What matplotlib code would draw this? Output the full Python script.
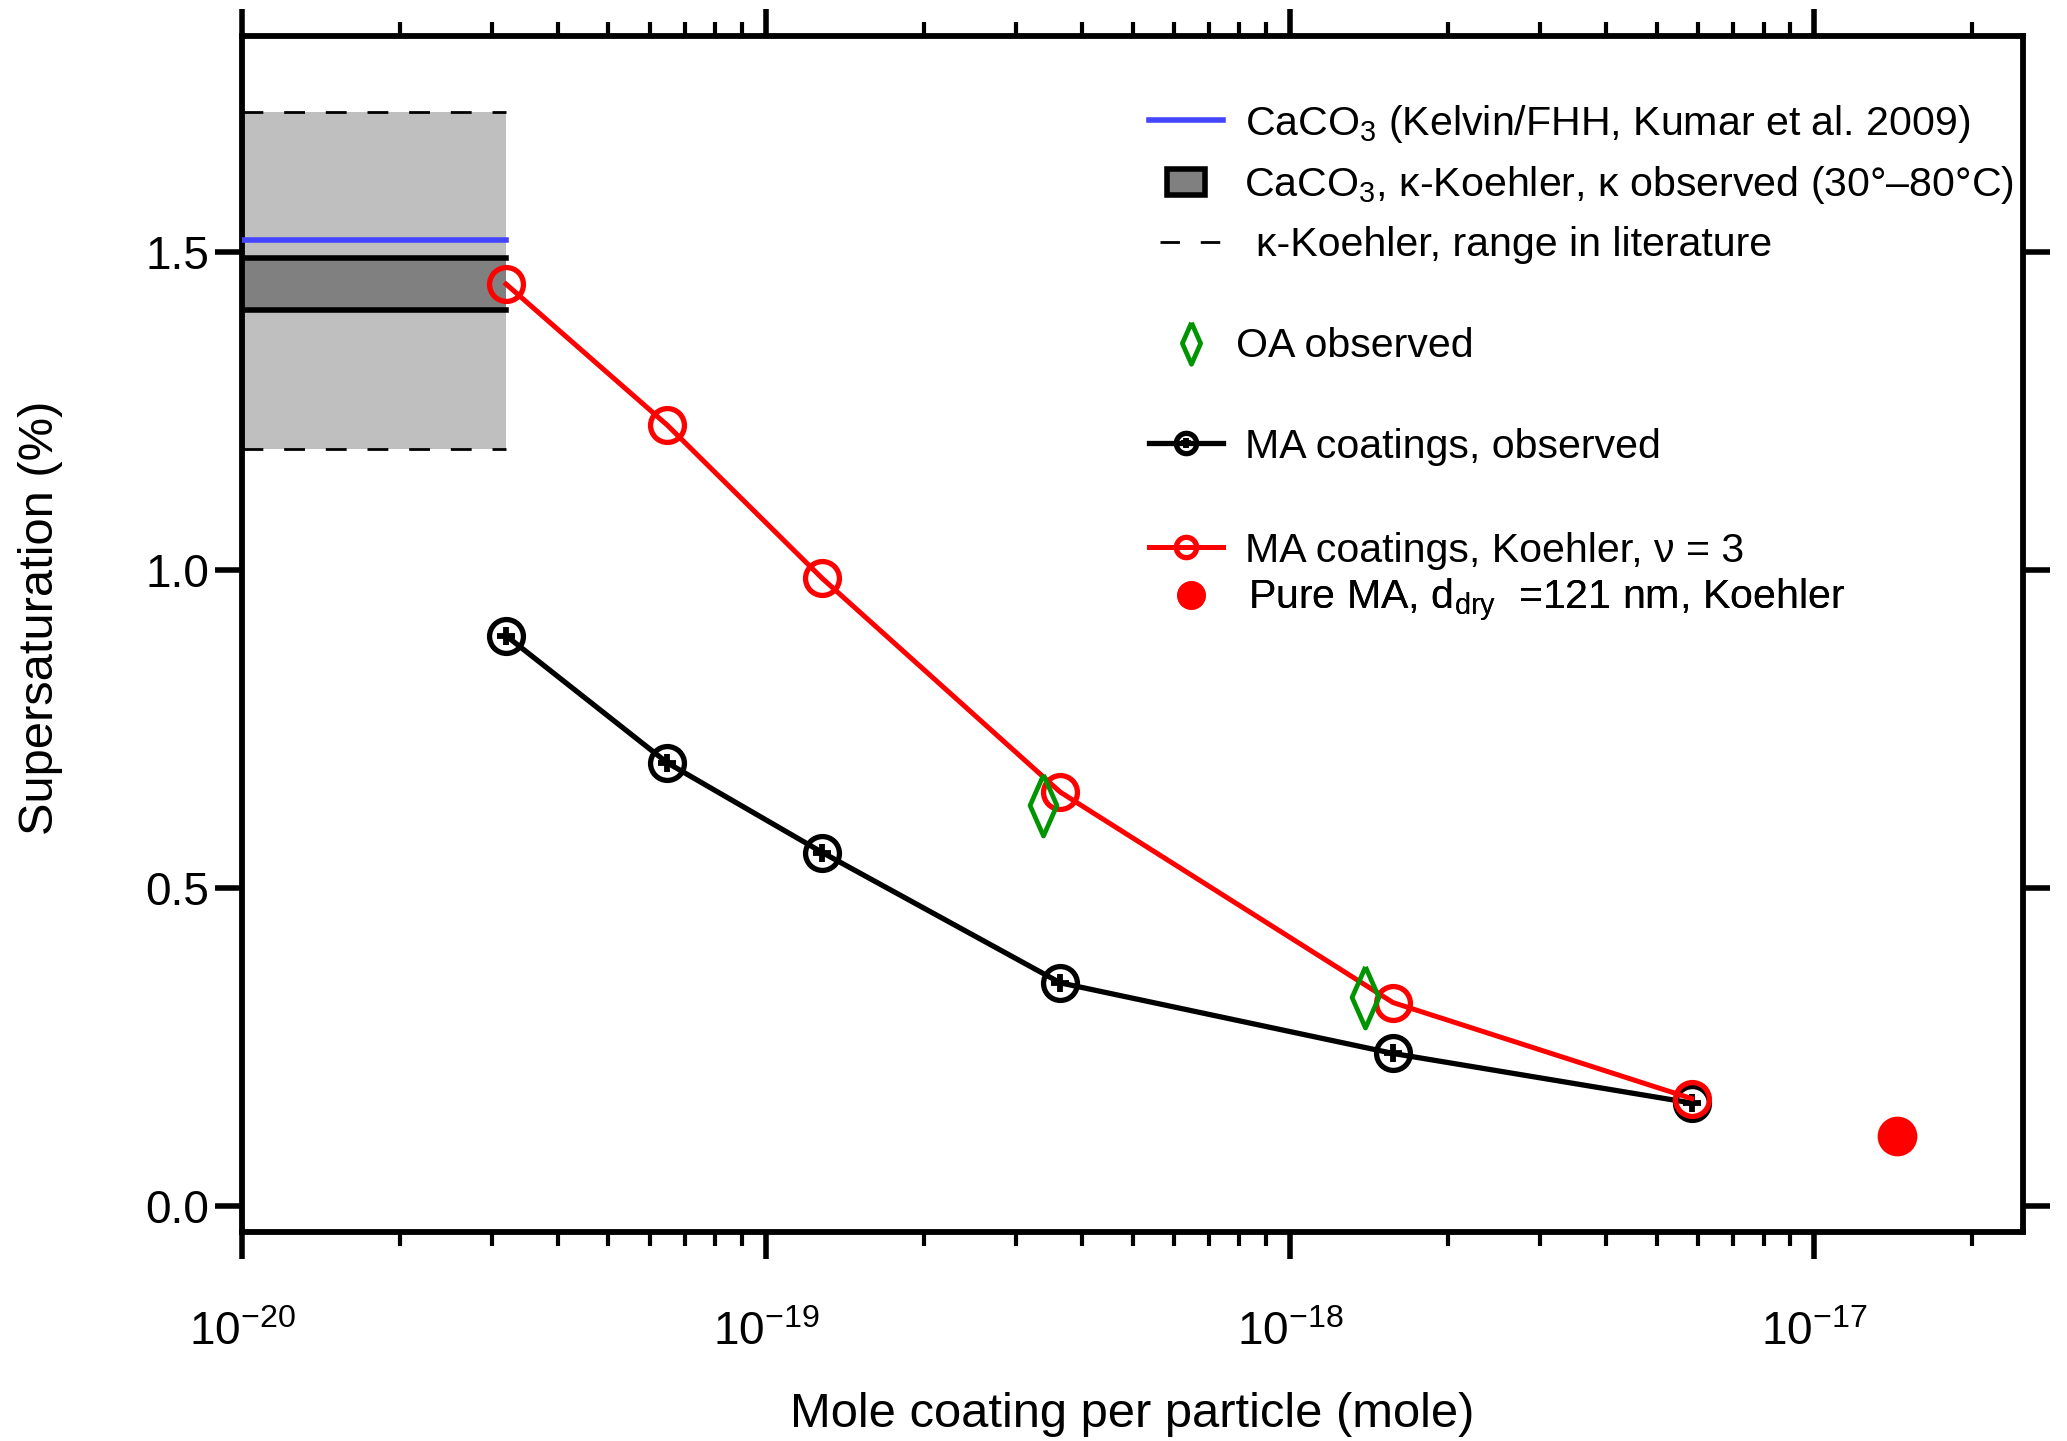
import numpy as np
import matplotlib
matplotlib.use('Agg')
import matplotlib.pyplot as plt
from matplotlib.lines import Line2D
from matplotlib.patches import Patch
from matplotlib.ticker import FixedLocator, NullFormatter, LogFormatterSciNotation

plt.rcParams['font.family'] = ['Liberation Sans', 'DejaVu Sans']
plt.rcParams['mathtext.fontset'] = 'custom'
plt.rcParams['mathtext.rm'] = 'Liberation Sans'
plt.rcParams['mathtext.it'] = 'Liberation Sans:italic'
plt.rcParams['mathtext.default'] = 'regular'

# ── Data ──────────────────────────────────────────────
mole_coating = [3.19e-20, 6.48e-20, 1.28e-19, 3.64e-19, 1.57e-18, 5.83e-18]
ss_observed  = [0.897, 0.697, 0.556, 0.351, 0.240, 0.162]
ss_koehler   = [1.450, 1.228, 0.987, 0.651, 0.320, 0.169]

oa_mole = [3.38e-19, 1.39e-18]
oa_ss   = [0.630, 0.329]

pure_ma_mole = [1.44e-17]
pure_ma_ss   = [0.110]

band_x        = [1e-20, 3.19e-20]
lit_range     = (1.191, 1.720)   # kappa-Koehler, range in literature
kappa_obs     = (1.410, 1.491)   # kappa observed (30-80 C)
kelvin_fhh    = 1.520

x_major = [1e-20, 1e-19, 1e-18, 1e-17]
y_ticks = [0.0, 0.5, 1.0, 1.5]
y_ticklabels = ['0.0', '0.5', '1.0', '1.5']

# ── Plot ──────────────────────────────────────────────
fig = plt.figure(figsize=(10.335, 7.205), dpi=200)
ax = fig.add_axes([0.11708, 0.14525, 0.86164, 0.82998])

ax.fill_between(band_x, lit_range[0], lit_range[1], color='#bfbfbf', lw=0, zorder=1)
for yv in lit_range:
    ax.plot(band_x, [yv, yv], color='black', lw=1.0, dashes=(7.5, 7.5), zorder=2)
ax.fill_between(band_x, kappa_obs[0], kappa_obs[1], color='#808080', lw=0, zorder=2)
for yv in kappa_obs:
    ax.plot(band_x, [yv, yv], color='black', lw=2.0, zorder=3)
ax.plot(band_x, [kelvin_fhh, kelvin_fhh], color='#4444ff', lw=2.0, zorder=3)

obs_line, = ax.plot(mole_coating, ss_observed, color='black', lw=1.9,
                    marker='o', ms=12.2, mfc='none', mec='black', mew=1.9, zorder=4)
obs_plus, = ax.plot(mole_coating, ss_observed, ls='none', marker='+',
                    ms=6.5, mec='black', mew=2.1, zorder=4)
koe_line, = ax.plot(mole_coating, ss_koehler, color='red', lw=1.8,
                    marker='o', ms=12.2, mfc='none', mec='red', mew=1.9, zorder=5)

diamond = [(0, 1), (0.44, 0), (0, -1), (-0.44, 0), (0, 1)]
oa_pts, = ax.plot(oa_mole, oa_ss, ls='none', marker=diamond, ms=22,
                  mfc='none', mec='#009400', mew=1.7, zorder=5)
pure_pt, = ax.plot(pure_ma_mole, pure_ma_ss, ls='none', marker='o', ms=13.3,
                   mfc='red', mec='red', zorder=5)

# Axes
ax.set_xscale('log')
ax.set_xlim(1e-20, 2.5e-17)
ax.set_ylim(-0.0404, 1.8407)
ax.set_yticks(y_ticks)
ax.set_yticklabels(y_ticklabels)
ax.xaxis.set_major_locator(FixedLocator(x_major))
ax.xaxis.set_major_formatter(LogFormatterSciNotation())
x_minor = [m * d for d in x_major for m in range(2, 10) if m * d < 2.5e-17]
ax.xaxis.set_minor_locator(FixedLocator(x_minor))
ax.xaxis.set_minor_formatter(NullFormatter())

for sp in ax.spines.values():
    sp.set_linewidth(2.1)
ax.tick_params(which='both', direction='out', top=True, right=True)
ax.tick_params(which='major', length=9.7, width=2.0, labelsize=16.5)
ax.tick_params(which='minor', length=5.0, width=1.5)
ax.tick_params(axis='x', which='major', pad=19)
ax.tick_params(axis='y', which='major', pad=2)

ax.set_xlabel('Mole coating per particle (mole)', fontsize=17.6)
ax.xaxis.label.set_va('baseline')
ax.xaxis.set_label_coords(0.5, -0.1636)
ax.set_ylabel('Supersaturation (%)', fontsize=17.6)
ax.yaxis.set_label_coords(-0.1004, 0.513)

# Legend, one entry at a time to match the spacing
def entry(handle, label, x, y, hl=1.8, pad=0.53, scale=1.0, hh=0.7):
    leg = ax.legend([handle], [label], loc='center left', bbox_to_anchor=(x, y),
                    frameon=False, fontsize=14.8, handlelength=hl, handleheight=hh,
                    handletextpad=pad, borderpad=0, borderaxespad=0,
                    markerscale=scale, numpoints=1)
    ax.add_artist(leg)

h_blue = Line2D([], [], color='#4444ff', lw=2.0)
h_box = Patch(facecolor='#808080', edgecolor='black', lw=2.0)
h_dash = Line2D([], [], color='black', lw=1.0, dashes=(7, 7.5))

entry(h_blue, r'CaCO$_3$ (Kelvin/FHH, Kumar et al. 2009)', 0.5095, 0.9265)
entry(h_box, r'CaCO$_3$, κ-Koehler, κ observed (30°–80°C)', 0.5195, 0.8748,
      hl=0.91, hh=0.6, pad=0.95)
entry(h_dash, 'κ-Koehler, range in literature', 0.5157, 0.8247, hl=1.49, pad=0.83)
entry(oa_pts, 'OA observed', 0.5212, 0.7404, hl=1.0, pad=0.6, scale=0.68)
entry((obs_line, obs_plus), 'MA coatings, observed', 0.5095, 0.6565, scale=0.6)
entry(koe_line, 'MA coatings, Koehler, ν = 3', 0.5095, 0.5693, scale=0.6)
entry(pure_pt, r'Pure MA, d$_{dry}$  =121 nm, Koehler', 0.5212, 0.5275,
      hl=1.0, pad=0.9, scale=0.7)

fig.savefig('out.png', dpi=200)
